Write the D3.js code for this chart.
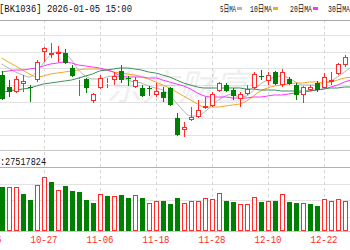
<!DOCTYPE html>
<html><head><meta charset="utf-8">
<script src="https://cdn.jsdelivr.net/npm/d3@7/dist/d3.min.js"></script>
<style>
html,body{margin:0;padding:0;background:#fff;overflow:hidden}
svg{display:block}
text{font-family:"Liberation Mono","DejaVu Sans Mono","Noto Sans CJK SC",monospace}
</style></head><body>
<svg id="c" width="350" height="250"></svg>
<script>
const dates = ["10-17","10-20","10-21","10-22","10-23","10-24","10-27","10-28","10-29","10-30","10-31",
"11-03","11-04","11-05","11-06","11-07","11-10","11-11","11-12","11-13","11-14","11-17","11-18",
"11-19","11-20","11-21","11-24","11-25","11-26","11-27","11-28","12-01","12-02","12-03","12-04","12-05",
"12-08","12-09","12-10","12-11","12-12","12-15","12-16","12-17","12-18","12-19","12-22","12-23","12-24","12-25","12-26"];
const tickLabels = ["10-15","10-27","11-06","11-18","11-28","12-10","12-22"];
const open  = [1150,1126,1116,1132,1126,1140,1196,1190,1192,1194,1164,1140,1142,1098,1124,1132,1140,1158,1144,1126,1124,1124,1110,1116,1124,1064,1040,1060,1066,1084,1088,1118,1130,1120,1102,1112,1124,1148,1138,1156,1130,1142,1130,1110,1120,1134,1124,1136,1152,1170,1184];
const high  = [1158,1140,1148,1150,1130,1180,1206,1214,1208,1202,1170,1144,1144,1114,1150,1144,1156,1170,1148,1146,1130,1128,1134,1126,1126,1074,1056,1086,1100,1106,1116,1136,1134,1124,1116,1130,1156,1160,1156,1158,1162,1146,1134,1128,1130,1138,1154,1156,1174,1190,1186];
const low   = [1100,1106,1114,1116,1096,1136,1176,1184,1176,1172,1146,1108,1114,1094,1122,1124,1130,1134,1128,1124,1106,1108,1106,1096,1088,1028,1026,1058,1064,1082,1086,1116,1116,1100,1086,1110,1122,1140,1130,1130,1126,1130,1100,1094,1118,1116,1124,1130,1150,1166,1170];
const close = [1102,1116,1142,1138,1124,1176,1204,1194,1196,1174,1148,1142,1124,1112,1144,1134,1148,1140,1142,1140,1108,1122,1118,1104,1090,1030,1046,1066,1080,1088,1112,1134,1118,1108,1112,1122,1152,1146,1150,1132,1156,1132,1110,1126,1126,1120,1146,1140,1172,1186,1174];
const ma5  = [1172,1164,1156,1150,1146,1156,1174,1190,1196,1194,1180,1160,1148,1142,1142,1146,1148,1146,1140,1136,1134,1128,1124,1120,1110,1094,1078,1068,1068,1076,1088,1100,1108,1112,1106,1108,1120,1132,1140,1146,1148,1144,1136,1130,1130,1130,1134,1138,1146,1156,1166];
const ma10 = [1184,1176,1168,1160,1152,1146,1148,1152,1154,1156,1158,1160,1162,1162,1162,1160,1156,1154,1152,1150,1146,1142,1136,1130,1124,1116,1108,1100,1092,1086,1086,1086,1088,1090,1092,1098,1108,1118,1124,1128,1130,1132,1134,1134,1136,1136,1134,1136,1140,1144,1146];
const ma20 = [1156,1158,1160,1160,1162,1164,1168,1172,1174,1176,1174,1170,1168,1166,1164,1160,1156,1148,1146,1146,1146,1144,1144,1140,1136,1132,1128,1122,1114,1108,1106,1106,1106,1104,1104,1104,1106,1106,1108,1110,1110,1112,1114,1116,1118,1120,1122,1126,1130,1136,1140];
const ma30 = [1114,1118,1120,1122,1124,1128,1132,1134,1136,1138,1140,1144,1148,1152,1158,1160,1162,1164,1164,1162,1160,1156,1154,1150,1146,1140,1134,1130,1126,1124,1124,1124,1124,1124,1124,1122,1122,1120,1120,1120,1118,1118,1118,1118,1118,1120,1122,1124,1124,1126,1126];
const volume = [27.5,27.3,27.7,23.1,19.4,28.8,33.6,30.6,25.6,28.1,25.2,24.4,19.4,17.3,22.9,21.9,21.7,22.3,20.4,22.3,20.4,17.7,18.8,18.9,16.7,20.9,17.7,18.8,18.8,20.8,19.8,23.6,18.8,18.1,16.9,16.9,21.4,18.1,18.8,18.8,23.1,18.1,17.3,17.7,16.7,15.8,19.8,18.8,19.8,18.8,18.8];
const volUp = [0,1,1,0,0,1,1,0,1,0,0,0,0,0,1,0,1,0,0,1,0,1,1,0,0,0,1,1,1,1,1,1,0,0,1,1,1,0,1,0,1,0,0,1,0,0,1,1,1,1,1];
const maNames = ["5日MA","10日MA","20日MA","30日MA"];
const maColors = ["#b4b4b4","#f5a623","#ff33ff","#3d8f5c"];
const title = "[BK1036] 2026-01-05 15:00";
const volLabel = ":27517824";

const svg = d3.select("#c");
const RED = "#ff2a2a", GREEN = "#008000";
const x = d3.scalePoint().domain(dates).range([1.5, 351.5]);
const y = d3.scaleLinear().domain([1000, 1260]).range([150, 20]);
const yv = d3.scaleLinear().domain([0, 40]).range([231, 167]);
const bw = 5;

// grid
const g = svg.append("g");
[35,52,68,85,102,118,135].forEach(v=>g.append("line").attr("x1",0).attr("x2",350).attr("y1",v+0.5).attr("y2",v+0.5).attr("stroke","#e2e2e2"));
[184,200,217].forEach(v=>g.append("line").attr("x1",0).attr("x2",350).attr("y1",v+0.5).attr("y2",v+0.5).attr("stroke","#e2e2e2"));
tickLabels.forEach(d=>{ if(dates.includes(d)) g.append("line").attr("x1",Math.round(x(d))+0.5).attr("x2",Math.round(x(d))+0.5).attr("y1",20).attr("y2",231).attr("stroke","#d6d6d6").attr("stroke-dasharray","3,3");});
[[20,"#a8a8a8"],[150,"#c8c8c8"],[167,"#b0b0b0"],[231,"#c8c8c8"]].forEach(([v,c])=>g.append("line").attr("x1",0).attr("x2",350).attr("y1",v+0.5).attr("y2",v+0.5).attr("stroke",c));

// watermark
svg.append("text").attr("x",178).attr("y",100).attr("text-anchor","middle").attr("font-size",36).attr("font-style","italic")
  .attr("fill","#000").attr("opacity",0.06).style("font-family","Noto Sans CJK SC").text("东方财富");

// MA lines
const mas = [ma5, ma10, ma20, ma30];
mas.forEach((arr,k)=>{
  svg.append("path").datum(arr).attr("fill","none").attr("stroke",maColors[k]).attr("stroke-width",1)
    .attr("d", d3.line().x((d,i)=>x(dates[i])).y(d=>y(d)).curve(d3.curveMonotoneX));
});

// candles
const idx = d3.range(dates.length);
const cg = svg.append("g");
idx.forEach(i=>{
  const up = close[i] >= open[i];
  const cx = Math.round(x(dates[i]));
  const col = up ? RED : GREEN;
  const top = Math.round(y(Math.max(open[i],close[i])));
  const bot = Math.round(y(Math.min(open[i],close[i])));
  cg.append("line").attr("x1",cx+0.5).attr("x2",cx+0.5).attr("y1",Math.round(y(high[i]))).attr("y2",up?top:Math.round(y(low[i]))).attr("stroke",col);
  if(up) cg.append("line").attr("x1",cx+0.5).attr("x2",cx+0.5).attr("y1",bot).attr("y2",Math.round(y(low[i]))).attr("stroke",col);
  if(up) cg.append("rect").attr("x",cx-1.5).attr("y",top+0.5).attr("width",bw-1).attr("height",Math.max(bot-top-1,0)).attr("fill","#fff").attr("stroke",col);
  else cg.append("rect").attr("x",cx-2).attr("y",top).attr("width",bw).attr("height",Math.max(bot-top,1)).attr("fill",col);
});

// volume
idx.forEach(i=>{
  const cx = Math.round(x(dates[i]));
  const t = Math.round(yv(volume[i]));
  if(volUp[i]) svg.append("rect").attr("x",cx-1.5).attr("y",t+0.5).attr("width",bw-1).attr("height",231-t-1).attr("fill","#fff").attr("stroke",RED);
  else svg.append("rect").attr("x",cx-2).attr("y",t).attr("width",bw).attr("height",231-t).attr("fill",GREEN);
});

// axis labels (10-15 lies two trading days before the first drawn candle)
const xl = d3.scaleLinear().domain([0, dates.length-1]).range([1.5, 351.5]);
const tickIdx = tickLabels.map(t=> t==="10-15" ? -2 : dates.indexOf(t));
const axg = svg.append("g").attr("transform","translate(0,233)")
  .call(d3.axisBottom(xl).tickValues(tickIdx).tickFormat((d,i)=>tickLabels[i]).tickSize(0).tickPadding(3));
axg.select(".domain").remove();
axg.selectAll("text").attr("fill",RED).attr("font-size",10).attr("textLength",27).attr("lengthAdjust","spacingAndGlyphs")
  .style("font-family","Liberation Mono, monospace");

// title & legend
svg.append("text").attr("x",-1).attr("y",12).attr("font-size",10).attr("fill","#111")
  .attr("textLength",133).attr("lengthAdjust","spacingAndGlyphs").text(title);
const legX = [220, 250, 290, 328];
const legW = [16, 22, 22, 22];
maNames.forEach((n,k)=>{
  svg.append("text").attr("x",legX[k]).attr("y",12).attr("font-size",9).attr("fill","#111")
    .attr("textLength",legW[k]).attr("lengthAdjust","spacingAndGlyphs").text(n);
  svg.append("rect").attr("x",legX[k]+legW[k]+1).attr("y",7).attr("width",5).attr("height",3).attr("fill",maColors[k]);
});
svg.append("text").attr("x",0).attr("y",165).attr("font-size",10).attr("fill","#111")
  .attr("textLength",46).attr("lengthAdjust","spacingAndGlyphs").text(volLabel);
</script></body></html>
